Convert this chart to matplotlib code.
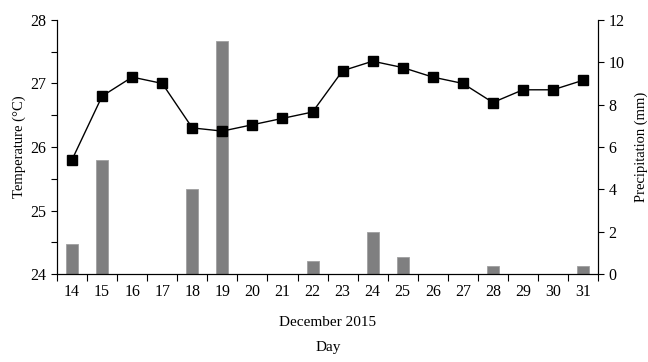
import numpy as np
import matplotlib
matplotlib.use("Agg")
import matplotlib.pyplot as plt
from matplotlib.ticker import MultipleLocator, FixedLocator

plt.rcParams["font.family"] = ["Liberation Serif", "DejaVu Serif"]
plt.rcParams["font.size"] = 10.5

## data

days = ["14", "15", "16", "17", "18", "19", "20", "21", "22",
        "23", "24", "25", "26", "27", "28", "29", "30", "31"]
temperature = [25.8, 26.8, 27.1, 27.0, 26.3, 26.25, 26.35, 26.45, 26.55,
               27.2, 27.35, 27.25, 27.1, 27.0, 26.7, 26.9, 26.9, 27.05]
precipitation = [1.4, 5.4, 0, 0, 4.0, 11.0, 0, 0, 0.6,
                 0, 2.0, 0.8, 0, 0, 0.4, 0, 0, 0.4]

x = np.arange(len(days))

fig = plt.figure(figsize=(6.48, 3.62), dpi=100)
ax = fig.add_axes([0.088, 0.243, 0.835, 0.702])
ax2 = ax.twinx()

## bars on the right axis, drawn behind the temperature line
ax2.bar(x, precipitation, width=0.4, color="#7f7f80", edgecolor="#a0a0a0", linewidth=0.6)
ax2.set_ylim(0, 12)
ax2.yaxis.set_major_locator(MultipleLocator(2))
ax2.set_ylabel("Precipitation (mm)", labelpad=7)

ax.plot(x, temperature, color="black", lw=1.0, marker="s", markersize=7.5,
        markerfacecolor="black", markeredgecolor="black", zorder=3)
ax.set_zorder(ax2.get_zorder() + 1)
ax.patch.set_visible(False)

ax.set_ylim(24, 28)
ax.yaxis.set_major_locator(MultipleLocator(1))
ax.yaxis.set_minor_locator(MultipleLocator(0.5))
ax.set_ylabel("Temperature (°C)", labelpad=3)

ax.set_xlim(-0.5, len(days) - 0.5)
ax.set_xticks(x)
ax.set_xticklabels(days)
ax.xaxis.set_minor_locator(FixedLocator(np.arange(-0.5, len(days), 1)))
ax.tick_params(axis="x", which="major", length=0, pad=7, labelsize=11.5)
ax.tick_params(axis="x", which="minor", length=5, width=0.8)
ax.tick_params(axis="y", which="both", length=4, width=0.8, labelsize=11.5)
ax2.tick_params(axis="y", length=4, width=0.8, labelsize=11.5)

for a in (ax, ax2):
    a.spines["top"].set_visible(False)
    for s in ("left", "right", "bottom"):
        a.spines[s].set_linewidth(0.8)

fig.text(0.506, 0.108, "December 2015", ha="center", va="center", fontsize=11)
fig.text(0.506, 0.04, "Day", ha="center", va="center", fontsize=11)

fig.savefig("out.png", dpi=100)
